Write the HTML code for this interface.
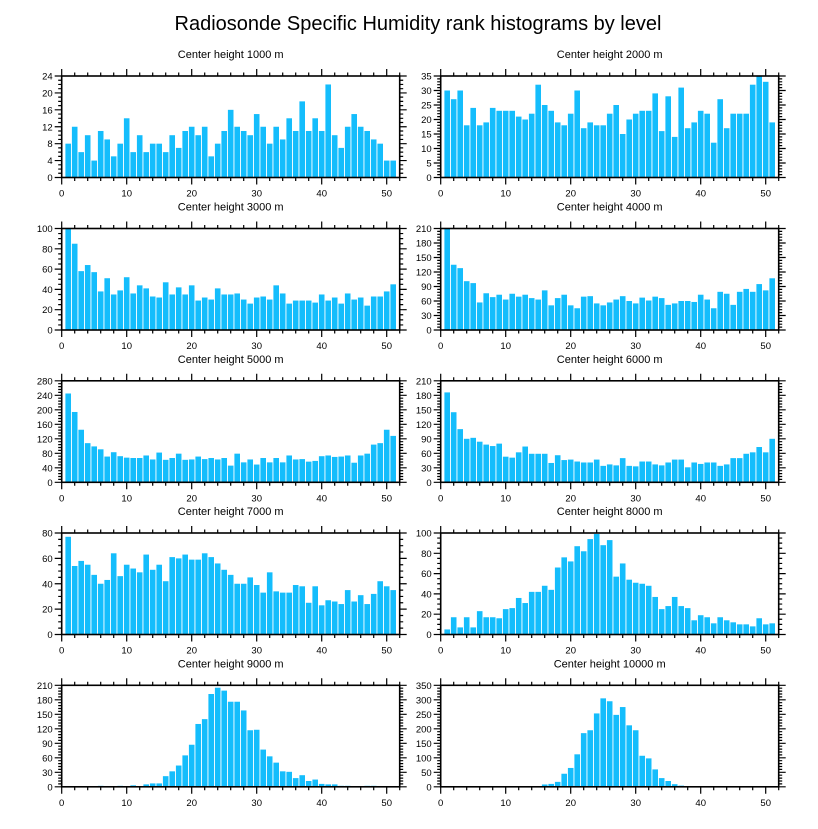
<!DOCTYPE html>
<html><head><meta charset="utf-8">
<style>
body{margin:0;background:#fff;width:818px;height:824px;overflow:hidden;font-family:"Liberation Sans",sans-serif;}
svg text{font-family:"Liberation Sans",sans-serif;}
</style></head>
<body>
<svg id="chart" width="818" height="824" xmlns="http://www.w3.org/2000/svg">
<text x="418" y="30" font-size="20" text-anchor="middle">Radiosonde Specific Humidity rank histograms by level</text>
</svg>
<script>
const levels = ["1000","2000","3000","4000","5000","6000","7000","8000","9000","10000"];
const yMax = [24,35,100,210,280,210,80,100,210,350];
const yStep = [4,5,20,30,40,30,20,20,30,50];
const h1000 = [8,12,6,10,4,11,9,5,8,14,6,10,6,8,8,6,10,7,11,12,10,12,5,8,11,16,12,11,10,15,12,8,12,9,14,11,18,11,14,11,22,10,7,12,15,12,11,9,8,4,4];
const h2000 = [30,27,30,18,24,18,19,24,23,23,23,21,20,22,32,25,23,19,18,22,30,17,19,18,18,22,25,15,20,22,23,23,29,16,28,14,31,17,19,23,22,12,27,17,22,22,22,32,35,33,19];
const h3000 = [100,85,58,64,57,38,51,35,39,52,36,44,41,33,32,47,35,42,35,44,29,32,30,41,35,35,36,30,26,32,33,30,44,36,26,29,29,29,27,35,29,32,26,36,30,32,24,33,33,38,45];
const h4000 = [210,135,128,101,97,57,76,68,73,63,75,69,73,66,63,82,51,66,73,51,45,69,70,55,51,57,63,70,60,55,67,61,69,66,52,55,60,60,58,73,63,45,79,75,52,79,85,79,95,82,107];
const h5000 = [245,194,145,108,99,91,71,83,72,68,67,67,74,63,82,62,67,79,62,63,71,64,67,63,67,46,79,55,63,49,67,55,67,55,74,63,64,57,59,72,74,70,71,74,54,74,79,104,108,145,128];
const h6000 = [186,145,110,90,92,84,78,75,80,53,51,62,74,59,59,59,40,56,46,47,43,41,41,47,34,37,35,50,34,33,43,43,37,35,41,47,47,31,41,38,41,41,34,37,50,50,59,62,73,62,90];
const h7000 = [77,54,58,55,47,40,43,64,46,55,52,49,63,51,55,42,61,60,63,59,59,64,61,56,51,47,40,40,45,39,33,49,34,33,33,39,38,25,38,23,27,26,24,35,26,31,24,32,42,38,35];
const h8000 = [5,17,7,17,7,23,17,17,16,25,26,36,31,42,42,48,44,66,76,72,87,82,94,99,88,93,57,70,54,51,50,48,37,25,28,37,28,26,14,19,17,11,17,14,12,10,10,8,16,10,11];
const h9000 = [0,0,0,0,1,2,0,1,2,1,3,1,5,7,7,22,32,44,65,87,130,140,192,205,199,176,176,158,117,118,77,63,50,32,31,18,24,12,15,6,5,5,2,2,1,0,2,2,1,1,1];
const h10000 = [0,0,0,0,0,0,0,0,0,0,0,0,0,1,2,8,10,17,45,65,112,185,195,253,305,295,248,275,212,195,107,98,60,30,20,9,4,2,2,2,1,2,1,1,1,1,0,0,0,0,0];
const series = [h1000,h2000,h3000,h4000,h5000,h6000,h7000,h8000,h9000,h10000];
const xTicks = [0,10,20,30,40,50];

const NS="http://www.w3.org/2000/svg";
const svg=document.getElementById('chart');
function mk(tag,attrs,parent){const e=document.createElementNS(NS,tag);for(const k in attrs)e.setAttribute(k,attrs[k]);(parent||svg).appendChild(e);return e;}
const PW=338, PH=101.5, XMAX=52;
const lefts=[61.7,440.7], tops=[76,228.5,380.8,533,685.3];

series.forEach((vals,i)=>{
  const L=lefts[i%2], T=tops[Math.floor(i/2)], B=T+PH;
  const g=mk('g',{});
  
  
  const xs=v=>L+v/XMAX*PW;
  const ys=v=>B-Math.min(v,yMax[i])/yMax[i]*PH;
  const t=mk('text',{x:L+PW/2,y:T-18,'font-size':11,'text-anchor':'middle'},g);
  t.textContent='Center height '+levels[i]+' m';
  
  
  vals.forEach((v,k)=>{
    const x=xs(k+1);
    const r=mk('rect',{x:x-2.8,y:ys(v),width:5.6,height:B-ys(v),fill:'#14bdfc'},g);
    
    
  });
  // ticks
  let d='';
  for(let v=0;v<=XMAX;v+=2){const x=xs(v);const len=(v%10===0)?7:3.5;d+=`M${x} ${B}v${len}M${x} ${T}v${-len}`;}
  const ms=yStep[i]/((yStep[i]%5===0&&yStep[i]!==20)?5:4);
  for(let v=0;v<=yMax[i]+1e-9;v+=ms){const y=ys(v);const maj=Math.abs(v/yStep[i]-Math.round(v/yStep[i]))<1e-6;const len=maj?7:3.5;d+=`M${L} ${y}h${-len}M${L+PW} ${y}h${len}`;}
  mk('path',{d:d,stroke:'#000','stroke-width':1.2,fill:'none'},g);
  const fr=mk('rect',{x:L,y:T,width:PW,height:PH,fill:'none',stroke:'#000','stroke-width':1.6},g);
  
  
  xTicks.forEach(v=>{const tx=mk('text',{x:xs(v),y:B+19,'font-size':9.5,'text-anchor':'middle'},g);tx.textContent=v;
    
    });
  for(let v=0;v<=yMax[i];v+=yStep[i]){const ty=mk('text',{x:L-9,y:ys(v)+3.5,'font-size':9.5,'text-anchor':'end'},g);ty.textContent=v;
    
    }
});
</script>
</body></html>
